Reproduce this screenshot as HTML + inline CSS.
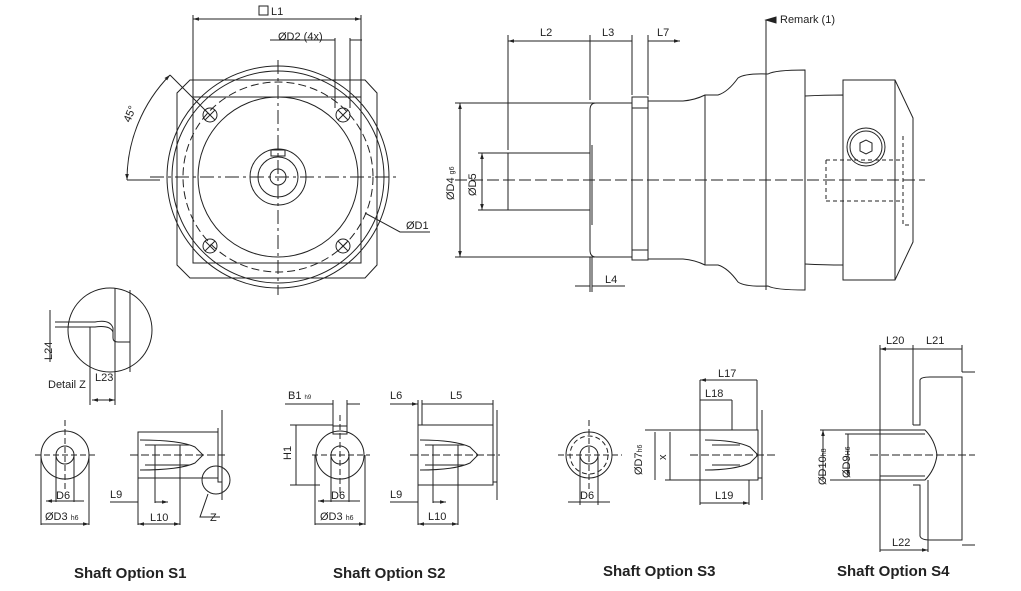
<!DOCTYPE html>
<html><head><meta charset="utf-8"><style>
html,body{margin:0;padding:0;background:#fff}
svg{display:block}
text{font-family:"Liberation Sans",Arial,sans-serif;fill:#222;font-size:11px}
.t{font-size:15px;font-weight:bold}
</style></head><body>
<svg width="1021" height="591" viewBox="0 0 1021 591" xmlns="http://www.w3.org/2000/svg">
<defs><marker id="a" viewBox="0 0 10 10" refX="10" refY="5" markerWidth="6" markerHeight="6" orient="auto-start-reverse"><path d="M0,2L10,5L0,8z" fill="#222"/></marker></defs>
<g fill="none" stroke="#222" stroke-width="1">
<!-- FRONT VIEW -->
<path d="M190,80 H365 L377,93 V265 L365,278 H190 L177,265 V93 Z"/>
<rect x="193" y="97" width="168" height="166"/>
<circle cx="278" cy="177" r="111"/>
<circle cx="278" cy="177" r="106"/>
<circle cx="278" cy="177" r="95" stroke-dasharray="8,4"/>
<circle cx="278" cy="177" r="80"/>
<circle cx="278" cy="177" r="28"/>
<circle cx="278" cy="177" r="20"/>
<circle cx="278" cy="177" r="8"/>
<rect x="271" y="150" width="14" height="6"/>
<g>
<circle cx="210" cy="115" r="7"/><path d="M205,120L215,110M205,110L215,120"/>
<circle cx="343" cy="115" r="7"/><path d="M338,120L348,110M338,110L348,120"/>
<circle cx="210" cy="246" r="7"/><path d="M205,251L215,241M205,241L215,251"/>
<circle cx="343" cy="246" r="7"/><path d="M338,251L348,241M338,241L348,251"/>
</g>
<path d="M150,177H400M278,60V295" stroke-dasharray="14,4,3,4"/>
<!-- L1 -->
<path d="M193,97V15M361,97V15"/>
<path d="M193,19H361" marker-start="url(#a)" marker-end="url(#a)"/>
<path d="M335,108V38M350,108V38M270,40H335M350,40H362"/>
<path d="M170,75L210,115"/>
<path d="M127,180A150,150 0 0 1 170,75" marker-start="url(#a)" marker-end="url(#a)"/>
<path d="M127,180H160"/>
<path d="M365,213L400,232H430"/>
<!-- SIDE VIEW -->
<path d="M455,180H925" stroke-dasharray="12,4"/>
<path d="M508,153H590M508,210H590M508,153V210"/>
<path d="M592,145V225"/>
<path d="M596,103H632V257H596Q590,257 590,250V110Q590,103 596,103Z"/>
<rect x="632" y="97" width="16" height="163"/>
<path d="M632,108H648M632,250H648"/>
<path d="M648,101H683Q695,100 705,95H718Q728,92 738,78Q745,73 768,74Q775,70 805,70V290Q775,290 768,286Q745,287 738,282Q728,268 718,265H705Q695,260 683,259H648"/>
<path d="M705,95V265M766,74V286"/>
<path d="M805,96Q825,95 843,95V265Q825,265 805,264"/>
<path d="M843,80H895L913,118V242L895,280H843Z"/>
<path d="M895,80V280"/>
<circle cx="866" cy="147" r="19"/><circle cx="866" cy="147" r="16"/>
<path d="M860,143L866,140L872,143V151L866,154L860,151Z"/>
<path d="M826,160H903M826,201H903M826,160V201M903,136V225H910" stroke-dasharray="4,3"/>
<path d="M508,150V35M590,100V35M632,95V35M648,95V35"/>
<path d="M508,41H590M590,41H632M648,41H680" marker-start="url(#a)" marker-end="url(#a)"/>
<path d="M455,103H595M455,257H595"/>
<path d="M460,103V257" marker-start="url(#a)" marker-end="url(#a)"/>
<path d="M478,153H508M478,210H508"/>
<path d="M482,153V210" marker-start="url(#a)" marker-end="url(#a)"/>
<path d="M590,257V292M592,257V292M575,286H590M592,286H625"/>
<path d="M766,20V290"/>
<path d="M766,20L776,17V23Z" fill="#222"/>
<!-- DETAIL Z -->
<circle cx="110" cy="330" r="42"/>
<path d="M115,288V370M130,290V372M55,322H95Q110,319 113,328V338Q113,342 118,342H130M55,327H95Q110,325 113,332M90,327V405M115,370V405M50,310V362M50,322V327"/>
<path d="M92,400H115" marker-start="url(#a)" marker-end="url(#a)"/>
<!-- S1 -->
<circle cx="65" cy="455" r="24"/><circle cx="65" cy="455" r="9"/>
<path d="M35,455H97M65,420V490" stroke-dasharray="6,3"/>
<path d="M56,455V502M74,455V502M41,455V525M89,455V525"/>
<path d="M46,501H84M41,524H89" marker-start="url(#a)" marker-end="url(#a)"/>
<path d="M138,432H218V478H138Z"/>
<path d="M218,428V482H222V410M222,482V500"/>
<path d="M140,440Q180,440 195,447L203,455L195,463Q180,470 140,470" />
<path d="M145,445H190M145,465H190M155,445V465M180,445V465"/>
<path d="M130,455H225" stroke-dasharray="8,3"/>
<path d="M138,478V525M155,465V503M180,465V525"/>
<path d="M110,502H138M155,502H168" marker-end="url(#a)"/>
<path d="M138,524H180" marker-start="url(#a)" marker-end="url(#a)"/>
<circle cx="216" cy="480" r="14"/>
<path d="M208,494L200,517H220"/>
<!-- S2 -->
<circle cx="340" cy="455" r="24"/><circle cx="340" cy="455" r="9"/>
<rect x="333" y="426" width="14" height="8"/>
<path d="M312,455H370M340,415V495" stroke-dasharray="6,3"/>
<path d="M333,400V426M347,400V426M285,404H333M347,404H360M290,425H333M290,485H320M296,425V485"/>
<path d="M331,455V502M349,455V502M315,455V525M365,455V525"/>
<path d="M318,501H360M315,524H365" marker-start="url(#a)" marker-end="url(#a)"/>
<path d="M418,425H493V485H418Z"/>
<path d="M493,428V482H497V410M497,482V500M418,400V425M422,400V425M493,400V425"/>
<path d="M422,404H493M390,404H418" marker-end="url(#a)"/>
<path d="M420,440Q455,440 470,447L478,455L470,463Q455,470 420,470"/>
<path d="M425,445H465M425,465H465M433,445V465M458,445V465"/>
<path d="M410,455H500" stroke-dasharray="8,3"/>
<path d="M418,485V525M433,465V503M458,465V525"/>
<path d="M390,502H418M433,502H446" marker-end="url(#a)"/>
<path d="M418,524H458" marker-start="url(#a)" marker-end="url(#a)"/>
<!-- S3 -->
<circle cx="589" cy="455" r="23"/><circle cx="589" cy="455" r="19" stroke-dasharray="5,3"/><circle cx="589" cy="455" r="9"/>
<path d="M558,455H622M589,420V490" stroke-dasharray="6,3"/>
<path d="M580,455V505M598,455V505M568,502H610" />
<path d="M700,430H758V480H700Z"/>
<path d="M758,432V478H762V410M762,478V500"/>
<path d="M705,440Q735,440 750,447L758,455L750,463Q735,470 705,470"/>
<path d="M712,445H740M712,465H740" />
<path d="M690,455H775" stroke-dasharray="8,3"/>
<path d="M700,380V430M757,380V430M732,400V430M700,480V505M749,480V505M645,430H700M665,480H700M670,432V480M655,432V480"/>
<path d="M700,380H757M700,400H732M700,503H749" marker-start="url(#a)" marker-end="url(#a)"/>
<!-- S4 -->
<path d="M880,430H925Q935,440 937,455Q935,470 925,480H880"/>
<path d="M880,434H925M880,476H925M880,430V480"/>
<path d="M913,425H920V380Q921,377 930,377H962V540H930Q921,540 920,536V485H913"/>
<path d="M962,372H975M962,545H975"/>
<path d="M870,455H975" stroke-dasharray="8,3"/>
<path d="M880,345V430M880,480V552M913,345V425M962,345V372M928,480V552"/>
<path d="M880,349H913M913,349H962M880,550H928" marker-start="url(#a)" marker-end="url(#a)"/>
<path d="M820,430H880M830,480H880M845,434H880"/>
<path d="M823,430V480M848,434V476" marker-start="url(#a)" marker-end="url(#a)"/>
</g>
<!-- TEXT -->
<rect x="259" y="6" width="9" height="9" fill="none" stroke="#222"/>
<text x="271" y="15">L1</text>
<text x="278" y="40">ØD2 (4x)</text>
<text x="406" y="229">ØD1</text>
<text x="130" y="123" transform="rotate(-68 130 123)">45°</text>
<text x="540" y="36">L2</text><text x="602" y="36">L3</text><text x="657" y="36">L7</text>
<text x="605" y="283">L4</text>
<text x="780" y="23">Remark  (1)</text>
<text x="454" y="200" transform="rotate(-90 454 200)">ØD4 <tspan font-size="7">g6</tspan></text>
<text x="476" y="196" transform="rotate(-90 476 196)">ØD5</text>
<text x="52" y="360" transform="rotate(-90 52 360)">L24</text>
<text x="48" y="388">Detail  Z</text><text x="95" y="381">L23</text>
<text x="56" y="499">D6</text><text x="45" y="520">ØD3 <tspan font-size="7">h6</tspan></text>
<text x="110" y="498">L9</text><text x="150" y="521">L10</text><text x="210" y="521">Z</text>
<text x="288" y="399">B1 <tspan font-size="6">h9</tspan></text>
<text x="291" y="460" transform="rotate(-90 291 460)">H1</text>
<text x="331" y="499">D6</text><text x="320" y="520">ØD3 <tspan font-size="7">h6</tspan></text>
<text x="390" y="399">L6</text><text x="450" y="399">L5</text>
<text x="390" y="498">L9</text><text x="428" y="520">L10</text>
<text x="580" y="499">D6</text>
<text x="718" y="377">L17</text><text x="705" y="397">L18</text><text x="715" y="499">L19</text>
<text x="642" y="475" transform="rotate(-90 642 475)">ØD7<tspan font-size="7">h6</tspan></text>
<text x="666" y="460" transform="rotate(-90 666 460)">x</text>
<text x="886" y="344">L20</text><text x="926" y="344">L21</text><text x="892" y="546">L22</text>
<text x="826" y="485" transform="rotate(-90 826 485)">ØD10<tspan font-size="7">h8</tspan></text>
<text x="850" y="478" transform="rotate(-90 850 478)">ØD9<tspan font-size="7">H6</tspan></text>
<text class="t" x="74" y="578">Shaft Option S1</text>
<text class="t" x="333" y="578">Shaft Option S2</text>
<text class="t" x="603" y="576">Shaft Option S3</text>
<text class="t" x="837" y="576">Shaft Option S4</text>
</svg>
</body></html>
